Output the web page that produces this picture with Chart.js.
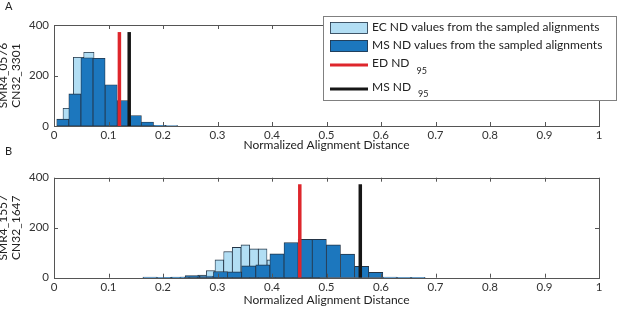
<!DOCTYPE html>
<html>
<head>
<meta charset="utf-8">
<script src="https://cdn.jsdelivr.net/npm/chart.js@4.4.1/dist/chart.umd.min.js"></script>
<style>
  html, body { margin: 0; padding: 0; background: #fff; }
  body { width: 622px; height: 311px; position: relative; overflow: hidden; }
  canvas { position: absolute; left: 0; }
  #chartA { top: 0; }
  #chartB { top: 140px; }
</style>
</head>
<body>
<canvas id="chartA" width="622" height="161"></canvas>
<canvas id="chartB" width="622" height="171"></canvas>
<script>
// panel A  (SMR4_0576 / CN32_3301)
const aEcCenters = [0.026, 0.045, 0.064, 0.083, 0.102, 0.121, 0.140, 0.159, 0.178];
const aEcCounts  = [70, 272, 292, 200, 110, 50, 18, 5, 1];
const aMsCenters = [0.0161, 0.0383, 0.0605, 0.0827, 0.1049, 0.1271, 0.1493, 0.1715, 0.1937, 0.2159];
const aMsCounts  = [27, 127, 270, 268, 163, 101, 41, 16, 3, 2];

// panel B  (SMR4_1557 / CN32_1647)
const bEcCenters = [0.2080, 0.2239, 0.2398, 0.2557, 0.2716, 0.2875, 0.3034, 0.3193, 0.3352, 0.3511,
                    0.3670, 0.3829, 0.3988, 0.4147, 0.4306, 0.4465, 0.4624, 0.4783, 0.4942];
const bEcCounts  = [1, 1, 2, 4, 10, 28, 71, 104, 121, 131, 115, 115, 71, 80, 70, 45, 20, 8, 3];
const bMsCenters = [0.1760, 0.2019, 0.2278, 0.2537, 0.2796, 0.3055, 0.3314, 0.3573, 0.3832, 0.4091,
                    0.4350, 0.4609, 0.4868, 0.5127, 0.5386, 0.5645, 0.5904, 0.6163, 0.6422, 0.6681];
const bMsCounts  = [2, 1, 2, 8, 6, 24, 23, 47, 51, 95, 140, 153, 153, 131, 94, 45, 21, 2, 1, 1];

// ND95 thresholds, A then B
const edNd95 = [0.120, 0.451];
const msNd95 = [0.138, 0.562];
const ndLineTop = [372, 374];

const xTickValues = [0, 0.1, 0.2, 0.3, 0.4, 0.5, 0.6, 0.7, 0.8, 0.9, 1];
const yTickValues = [0, 200, 400];
const xTitle = 'Normalized Alignment Distance';
const legendLabels = ['EC ND values from the sampled alignments', 'MS ND values from the sampled alignments', 'ED ND', 'MS ND'];

const lightBlue = 'rgb(178, 222, 244)';
const darkBlue = 'rgb(28, 119, 190)';
const barEdge = 'rgb(35, 52, 70)';
const red = 'rgb(222, 38, 44)';
const black = 'rgb(22, 22, 22)';
const fontFamily = 'Lato, "Open Sans", sans-serif';

function pairs(xs, ys) {
  return xs.map((x, i) => ({ x: x, y: ys[i] }));
}

// box round the plot with matlab-style inward ticks
const frameTicks = {
  id: 'frameTicks',
  afterDatasetsDraw(chart) {
    const { ctx, chartArea: a, scales: { x, y } } = chart;
    ctx.save();
    ctx.strokeStyle = '#555';
    ctx.lineWidth = 1;
    ctx.strokeRect(Math.round(a.left) + 0.5, Math.round(a.top) + 0.5,
      Math.round(a.right - a.left), Math.round(a.bottom - a.top));
    ctx.beginPath();
    x.ticks.forEach(t => {
      const px = Math.round(x.getPixelForValue(t.value)) + 0.5;
      ctx.moveTo(px, a.bottom); ctx.lineTo(px, a.bottom - 4);
      ctx.moveTo(px, a.top); ctx.lineTo(px, a.top + 4);
    });
    y.ticks.forEach(t => {
      const py = Math.round(y.getPixelForValue(t.value)) + 0.5;
      ctx.moveTo(a.left, py); ctx.lineTo(a.left + 4, py);
      ctx.moveTo(a.right, py); ctx.lineTo(a.right - 4, py);
    });
    ctx.stroke();
    ctx.restore();
  }
};

const panelLetter = {
  id: 'panelLetter',
  afterDraw(chart, args, opts) {
    const ctx = chart.ctx;
    ctx.save();
    ctx.font = '11px ' + fontFamily;
    ctx.fillStyle = '#222';
    ctx.textBaseline = 'middle';
    ctx.fillText(opts.text, opts.x, opts.y);
    ctx.restore();
  }
};

const ndLegend = {
  id: 'ndLegend',
  afterDraw(chart, args, opts) {
    if (!opts.show) return;
    const ctx = chart.ctx;
    ctx.save();
    ctx.fillStyle = '#fff';
    ctx.fillRect(323, 16, 294, 85);
    ctx.strokeStyle = '#808080';
    ctx.lineWidth = 1;
    ctx.strokeRect(323.5, 16.5, 293, 84);

    ctx.lineWidth = 0.8;
    ctx.strokeStyle = barEdge;
    ctx.fillStyle = lightBlue;
    ctx.fillRect(330, 22, 38, 12);
    ctx.strokeRect(330.5, 22.5, 37, 11);
    ctx.fillStyle = darkBlue;
    ctx.fillRect(330, 40, 38, 12);
    ctx.strokeRect(330.5, 40.5, 37, 11);

    ctx.lineWidth = 3;
    ctx.strokeStyle = red;
    ctx.beginPath(); ctx.moveTo(330, 65); ctx.lineTo(368, 65); ctx.stroke();
    ctx.strokeStyle = black;
    ctx.beginPath(); ctx.moveTo(330, 89); ctx.lineTo(368, 89); ctx.stroke();

    ctx.fillStyle = '#222';
    ctx.textBaseline = 'middle';
    ctx.font = '12px ' + fontFamily;
    ctx.fillText(legendLabels[0], 372, 27.5);
    ctx.fillText(legendLabels[1], 372, 45.5);
    ctx.fillText(legendLabels[2], 372, 63);
    ctx.fillText(legendLabels[3], 372, 87);
    const w2 = ctx.measureText(legendLabels[2]).width;
    const w3 = ctx.measureText(legendLabels[3]).width;
    ctx.font = '9px ' + fontFamily;
    ctx.fillText('95', 372 + w2 + 7, 71);
    ctx.fillText('95', 372 + w3 + 7, 94);
    ctx.restore();
  }
};

function makePanel(id, p) {
  const tickFont = { family: fontFamily, size: 11.5 };
  const titleFont = { family: fontFamily, size: 12, lineHeight: 1.1 };
  return new Chart(document.getElementById(id), {
    type: 'bar',
    data: {
      datasets: [
        {
          type: 'line', label: 'MS ND95', data: [{ x: p.ms, y: 0 }, { x: p.ms, y: p.lineTop }],
          borderColor: black, borderWidth: 3.5, pointRadius: 0, borderCapStyle: 'butt', xAxisID: 'x', order: 0
        },
        {
          type: 'line', label: 'ED ND95', data: [{ x: p.ed, y: 0 }, { x: p.ed, y: p.lineTop }],
          borderColor: red, borderWidth: 3.5, pointRadius: 0, borderCapStyle: 'butt', xAxisID: 'x', order: 0
        },
        {
          label: 'MS ND values', data: pairs(p.msX, p.msY), xAxisID: 'x', order: 1,
          backgroundColor: darkBlue, borderColor: barEdge, borderWidth: 0.8, borderSkipped: false,
          barPercentage: 1, categoryPercentage: 1, grouped: false
        },
        {
          label: 'EC ND values', data: pairs(p.ecX, p.ecY), xAxisID: 'xEc', order: 2,
          backgroundColor: lightBlue, borderColor: barEdge, borderWidth: 0.8, borderSkipped: false,
          barPercentage: 1, categoryPercentage: 1, grouped: false
        }
      ]
    },
    options: {
      responsive: false,
      animation: false,
      devicePixelRatio: 1,
      layout: { padding: { top: p.top, right: 23, left: 0, bottom: 0 } },
      scales: {
        x: {
          type: 'linear', position: 'bottom', min: 0, max: 1, offset: false,
          afterBuildTicks: s => { s.ticks = xTickValues.map(v => ({ value: v })); },
          afterFit: s => { s.height = p.xHeight; },
          grid: { display: false, drawTicks: false, offset: false },
          border: { display: false },
          ticks: { font: tickFont, color: '#333', padding: 2.5, maxRotation: 0, autoSkip: false, callback: v => String(v) },
          title: { display: true, text: xTitle, font: titleFont, color: '#222', padding: { top: 0, bottom: p.titlePad } }
        },
        xEc: {
          type: 'linear', position: 'bottom', min: 0, max: 1, offset: false, display: false,
          grid: { offset: false },
          afterBuildTicks: s => { s.ticks = xTickValues.map(v => ({ value: v })); }
        },
        y: {
          min: 0, max: 400,
          afterBuildTicks: s => { s.ticks = yTickValues.map(v => ({ value: v })); },
          afterFit: s => { s.width = 54; },
          grid: { display: false, drawTicks: false },
          border: { display: false },
          ticks: { font: tickFont, color: '#333', padding: 5 },
          title: { display: true, text: p.yTitle, font: titleFont, color: '#222', padding: { top: -3.5, bottom: 0 } }
        }
      },
      plugins: {
        legend: { display: false },
        tooltip: { enabled: false },
        panelLetter: { text: p.letter, x: 5, y: p.letterY },
        ndLegend: { show: p.legend }
      }
    },
    plugins: [frameTicks, panelLetter, ndLegend]
  });
}

makePanel('chartA', {
  ecX: aEcCenters, ecY: aEcCounts, msX: aMsCenters, msY: aMsCounts,
  ed: edNd95[0], ms: msNd95[0], lineTop: ndLineTop[0],
  yTitle: ['SMR4_0576', 'CN32_3301'], letter: 'A', letterY: 6.5, legend: true,
  top: 25, xHeight: 35, titlePad: 9.4
});

makePanel('chartB', {
  ecX: bEcCenters, ecY: bEcCounts, msX: bMsCenters, msY: bMsCounts,
  ed: edNd95[1], ms: msNd95[1], lineTop: ndLineTop[1],
  yTitle: ['SMR4_1557', 'CN32_1647'], letter: 'B', letterY: 11, legend: false,
  top: 37.7, xHeight: 33.3, titlePad: 4.4
});
</script>
</body>
</html>
